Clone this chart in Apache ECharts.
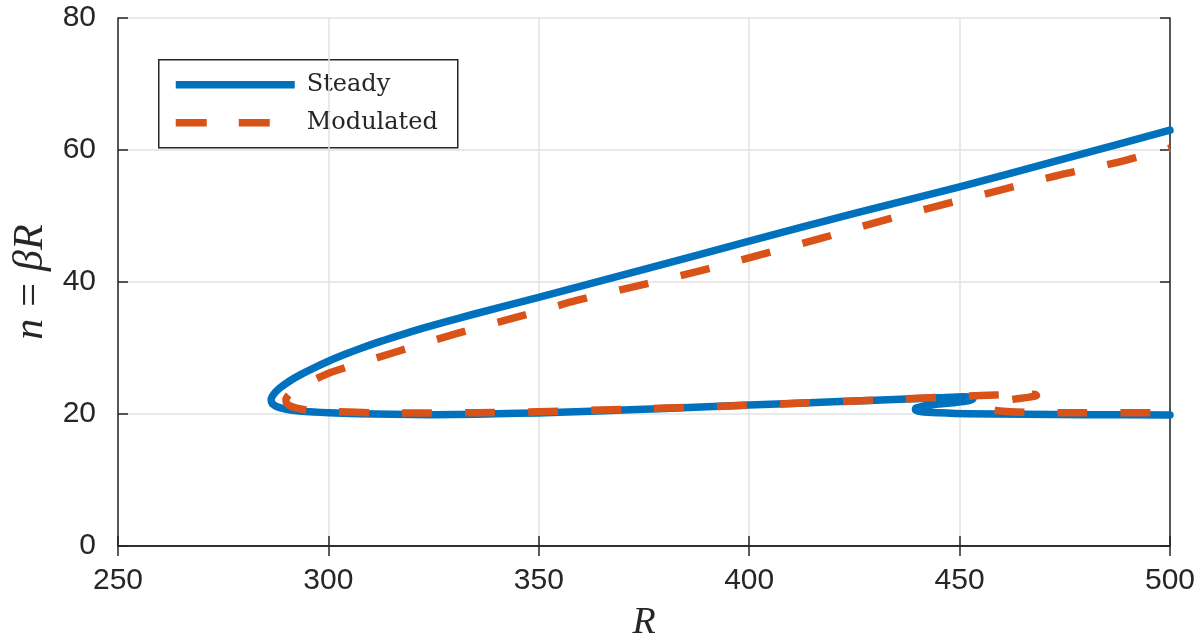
<!DOCTYPE html>
<html>
<head>
<meta charset="utf-8">
<script src="https://cdn.jsdelivr.net/npm/echarts@6/dist/echarts.min.js"></script>
<style>
  html, body { margin: 0; padding: 0; background: #fff; overflow: hidden; }
  #chart { width: 1202px; height: 642px; }
</style>
</head>
<body>
<div id="chart"></div>
<script>
// Axis ticks
const xTicks = [250, 300, 350, 400, 450, 500];
const yTicks = [0, 20, 40, 60, 80];

// Steady branch: upper arm from R=500 down to the turning point, then the lower arm with its small fold
const steadyR = [500, 475, 450, 425, 400, 375, 349.5, 333.8, 328.0, 322.5, 317.3, 312.4, 307.9, 303.8, 300.0, 296.6, 293.5, 290.8, 288.6, 287.7, 287.0, 286.6, 286.4, 286.5, 286.8, 287.8, 289.3, 291.0, 293.0, 296.5, 300, 307, 315, 325, 335, 345, 355, 370, 390, 410, 430, 445, 451, 453, 453.2, 452, 449, 445, 441.5, 439.6, 439.5, 441, 445, 452, 465, 480, 500];
const steadyN = [63.0, 58.7, 54.4, 50.4, 46.2, 41.9, 37.6, 35.0, 34.0, 33.0, 32.0, 31.0, 30.0, 29.0, 28.0, 27.0, 26.0, 25.0, 24.0, 23.5, 23.0, 22.6, 22.2, 21.8, 21.5, 21.1, 20.8, 20.6, 20.45, 20.3, 20.2, 20.05, 19.95, 19.9, 19.95, 20.1, 20.25, 20.6, 21.1, 21.6, 22.1, 22.45, 22.6, 22.5, 22.3, 22.0, 21.75, 21.5, 21.2, 20.9, 20.6, 20.35, 20.2, 20.05, 19.95, 19.9, 19.85];

// Modulated branch
const modR = [500, 488, 473, 459, 444, 430, 417, 403, 389, 374, 359, 345, 330, 316, 301, 297, 294, 292, 290.6, 289.9, 290.1, 291, 292.5, 295, 300, 310, 320, 335, 350, 370, 390, 410, 430, 445, 455, 462, 466, 468, 468.3, 466.5, 463, 460, 457.8, 456.8, 457.2, 459, 462, 467, 475, 490, 500];
const modN = [60.3, 58.2, 56.1, 53.8, 51.4, 49.0, 46.6, 44.2, 41.8, 39.5, 37.2, 34.7, 32.1, 29.4, 26.4, 25.3, 24.3, 23.6, 22.9, 22.2, 21.6, 21.2, 20.9, 20.6, 20.4, 20.2, 20.15, 20.2, 20.35, 20.7, 21.1, 21.6, 22.1, 22.5, 22.8, 22.95, 23.0, 22.95, 22.8, 22.55, 22.25, 21.9, 21.5, 21.1, 20.75, 20.5, 20.35, 20.25, 20.2, 20.2, 20.2];

const seriesNames = ['Steady', 'Modulated'];
const BLUE = '#0072BD';
const ORANGE = '#D95319';
const INK = '#262626';
const GRID = '#e2e2e2';
const LINE_W = 7.5;

const zip = (a, b) => a.map((v, i) => [v, b[i]]);

const chart = echarts.init(document.getElementById('chart'), null, { renderer: 'canvas' });

const axisLine = { show: true, lineStyle: { color: INK, width: 1.5 } };
const axisTick = { show: true, inside: true, length: 10, lineStyle: { color: INK, width: 1.5 } };
const tickFont = { color: INK, fontFamily: 'Liberation Sans', fontSize: 30 };

const xMin = xTicks[0], xMax = xTicks[xTicks.length - 1], xStep = xTicks[1] - xTicks[0];
const yMin = yTicks[0], yMax = yTicks[yTicks.length - 1], yStep = yTicks[1] - yTicks[0];

chart.setOption({
  animation: false,
  backgroundColor: '#fff',
  grid: { left: 118, right: 32, top: 18, bottom: 96, containLabel: false, outerBoundsMode: 'none' },
  xAxis: [
    {
      type: 'value', min: xMin, max: xMax, interval: xStep, position: 'bottom',
      name: 'R', nameLocation: 'middle', nameGap: 58,
      nameTextStyle: { fontFamily: 'Liberation Serif', fontStyle: 'italic', fontSize: 38, color: INK },
      axisLine, axisTick,
      axisLabel: Object.assign({ margin: 20 }, tickFont),
      splitLine: { show: true, lineStyle: { color: GRID, width: 1.5 } }
    },
    {
      type: 'value', min: xMin, max: xMax, interval: xStep, position: 'top',
      axisLine, axisTick, axisLabel: { show: false }, splitLine: { show: false }
    }
  ],
  yAxis: [
    {
      type: 'value', min: yMin, max: yMax, interval: yStep, position: 'left',
      name: '{i|n}{eq|=}{i|βR}', nameLocation: 'middle', nameGap: 65, nameRotate: 90,
      nameTextStyle: {
        color: INK, fontFamily: 'Liberation Serif', fontSize: 42,
        rich: {
          i: { fontFamily: 'Liberation Serif', fontStyle: 'italic', fontSize: 42, color: INK },
          eq: { fontFamily: 'Liberation Serif', fontSize: 42, color: INK, padding: [0, 12, 0, 12] }
        }
      },
      axisLine, axisTick,
      axisLabel: Object.assign({ margin: 22 }, tickFont),
      splitLine: { show: true, lineStyle: { color: GRID, width: 1.5 } }
    },
    {
      type: 'value', min: yMin, max: yMax, interval: yStep, position: 'right',
      axisLine, axisTick, axisLabel: { show: false }, splitLine: { show: false }
    }
  ],
  series: [
    {
      name: seriesNames[0], type: 'line', xAxisIndex: 0, yAxisIndex: 0,
      data: zip(steadyR, steadyN), showSymbol: false, smooth: 0.25, clip: true,
      lineStyle: { color: BLUE, width: LINE_W, cap: 'round', join: 'round' }
    },
    {
      name: seriesNames[1], type: 'line', xAxisIndex: 0, yAxisIndex: 0,
      data: zip(modR, modN), showSymbol: false, smooth: 0.25, clip: true,
      lineStyle: { color: ORANGE, width: LINE_W, type: [30, 33], dashOffset: 28, cap: 'butt', join: 'round' }
    }
  ],
  graphic: [
    {
      type: 'group', left: 158, top: 59, z: 100,
      children: [
        { type: 'rect', shape: { x: 0, y: 0, width: 299, height: 88 }, style: { fill: '#fff', stroke: INK, lineWidth: 1.5 } },
        { type: 'line', shape: { x1: 17, y1: 25, x2: 136, y2: 25 }, style: { stroke: BLUE, lineWidth: LINE_W } },
        { type: 'line', shape: { x1: 17, y1: 63, x2: 112, y2: 63 }, style: { stroke: ORANGE, lineWidth: LINE_W, lineDash: [31, 32] } },
        { type: 'text', x: 148, y: 25, style: { text: seriesNames[0], fill: INK, font: '24px "DejaVu Serif"', textVerticalAlign: 'middle', textAlign: 'left' } },
        { type: 'text', x: 148, y: 63, style: { text: seriesNames[1], fill: INK, font: '24px "DejaVu Serif"', textVerticalAlign: 'middle', textAlign: 'left' } }
      ]
    }
  ]
});
</script>
</body>
</html>
